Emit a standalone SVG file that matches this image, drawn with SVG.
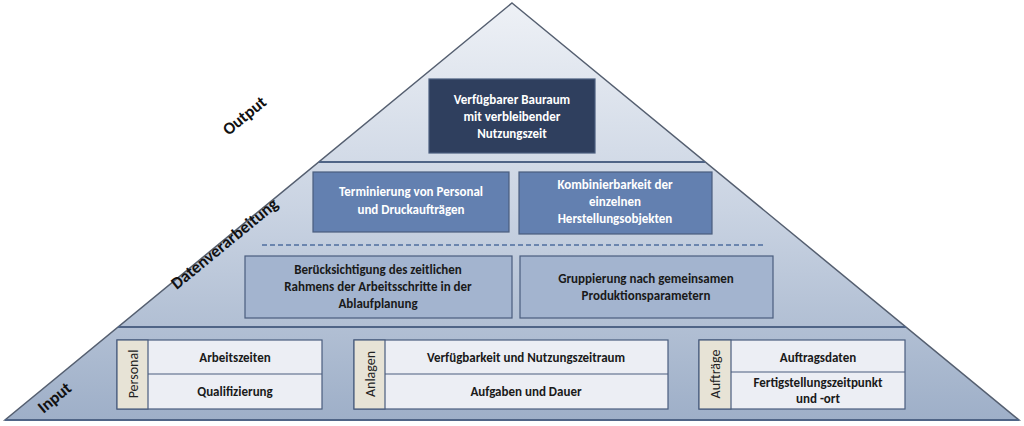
<svg xmlns="http://www.w3.org/2000/svg" width="1024" height="426" viewBox="0 0 1024 426">
<defs>
<linearGradient id="g" x1="0" y1="0" x2="0" y2="1">
<stop offset="0" stop-color="#eef1f6"/><stop offset="0.5" stop-color="#c9d3e2"/><stop offset="1" stop-color="#9eafc8"/>
</linearGradient>
</defs>
<style>
text{font-family:Calibri,"Liberation Sans",sans-serif;font-weight:bold;font-size:13px;text-anchor:middle}
.w{fill:#fff}.d{fill:#1a1a1a}
.lbl{font-size:17px;fill:#111}
.side{font-weight:normal;font-size:14px;fill:#222}
.bx{stroke:#4a5d7e;stroke-width:1.2}
</style>
<g id="pyramid">
<polygon points="512,3 1019,420 5,420" fill="url(#g)" stroke="#555f70" stroke-width="1.5"/>
<line x1="319" y1="162" x2="705" y2="162" stroke="#4f6486" stroke-width="2"/>
<line x1="118" y1="327" x2="906" y2="327" stroke="#4f6486" stroke-width="2"/>
<line x1="262" y1="245" x2="763" y2="245" stroke="#4f6d9e" stroke-width="1.5" stroke-dasharray="5,3"/>
<line x1="5" y1="420" x2="1019" y2="420" stroke="#4f6486" stroke-width="2"/>
<text class="lbl" transform="translate(248,120) rotate(-39.4)">Output</text>
<text class="lbl" transform="translate(228,248) rotate(-39.4)">Datenverarbeitung</text>
<text class="lbl" transform="translate(58,402) rotate(-39.4)">Input</text>
</g>
<g id="output">
<rect class="bx" x="429" y="79" width="166" height="74" fill="#2f3f5e"/>
<text class="w" x="512" y="104">Verfügbarer Bauraum</text>
<text class="w" x="512" y="121">mit verbleibender</text>
<text class="w" x="512" y="138">Nutzungszeit</text>
</g>
<g id="terminierung">
<rect class="bx" x="313" y="172" width="196" height="60" fill="#6380b0"/>
<text class="w" x="411" y="196">Terminierung von Personal</text>
<text class="w" x="411" y="214">und Druckaufträgen</text>
</g>
<g id="kombinierbarkeit">
<rect class="bx" x="519" y="172" width="193" height="62" fill="#6380b0"/>
<text class="w" x="615" y="189">Kombinierbarkeit der</text>
<text class="w" x="615" y="206">einzelnen</text>
<text class="w" x="615" y="223">Herstellungsobjekten</text>
</g>
<g id="beruecksichtigung">
<rect class="bx" x="245" y="256" width="267" height="62" fill="#a3b4cf"/>
<text class="d" x="378" y="274">Berücksichtigung des zeitlichen</text>
<text class="d" x="378" y="291">Rahmens der Arbeitsschritte in der</text>
<text class="d" x="378" y="308">Ablaufplanung</text>
</g>
<g id="gruppierung">
<rect class="bx" x="520" y="256" width="253" height="62" fill="#a3b4cf"/>
<text class="d" x="646" y="283">Gruppierung nach gemeinsamen</text>
<text class="d" x="646" y="300">Produktionsparametern</text>
</g>
<g id="personal">
<rect class="bx" x="117" y="340" width="205" height="69" fill="#eceef4"/>
<rect class="bx" x="117" y="340" width="31" height="69" fill="#e7e3d6"/>
<line class="bx" x1="148" y1="374" x2="322" y2="374"/>
<text class="side" transform="translate(138,374) rotate(-90)">Personal</text>
<text class="d" x="235" y="362">Arbeitszeiten</text>
<text class="d" x="235" y="396">Qualifizierung</text>
</g>
<g id="anlagen">
<rect class="bx" x="354" y="340" width="314" height="69" fill="#eceef4"/>
<rect class="bx" x="354" y="340" width="31" height="69" fill="#e7e3d6"/>
<line class="bx" x1="385" y1="374" x2="668" y2="374"/>
<text class="side" transform="translate(375,374) rotate(-90)">Anlagen</text>
<text class="d" x="526" y="362">Verfügbarkeit und Nutzungszeitraum</text>
<text class="d" x="526" y="396">Aufgaben und Dauer</text>
</g>
<g id="auftraege">
<rect class="bx" x="699" y="340" width="206" height="69" fill="#eceef4"/>
<rect class="bx" x="699" y="340" width="32" height="69" fill="#e7e3d6"/>
<line class="bx" x1="731" y1="372" x2="905" y2="372"/>
<text class="side" transform="translate(720,374) rotate(-90)">Aufträge</text>
<text class="d" x="818" y="362">Auftragsdaten</text>
<text class="d" x="818" y="387">Fertigstellungszeitpunkt</text>
<text class="d" x="818" y="403">und -ort</text>
</g>
<g id="connectors"></g>
</svg>
